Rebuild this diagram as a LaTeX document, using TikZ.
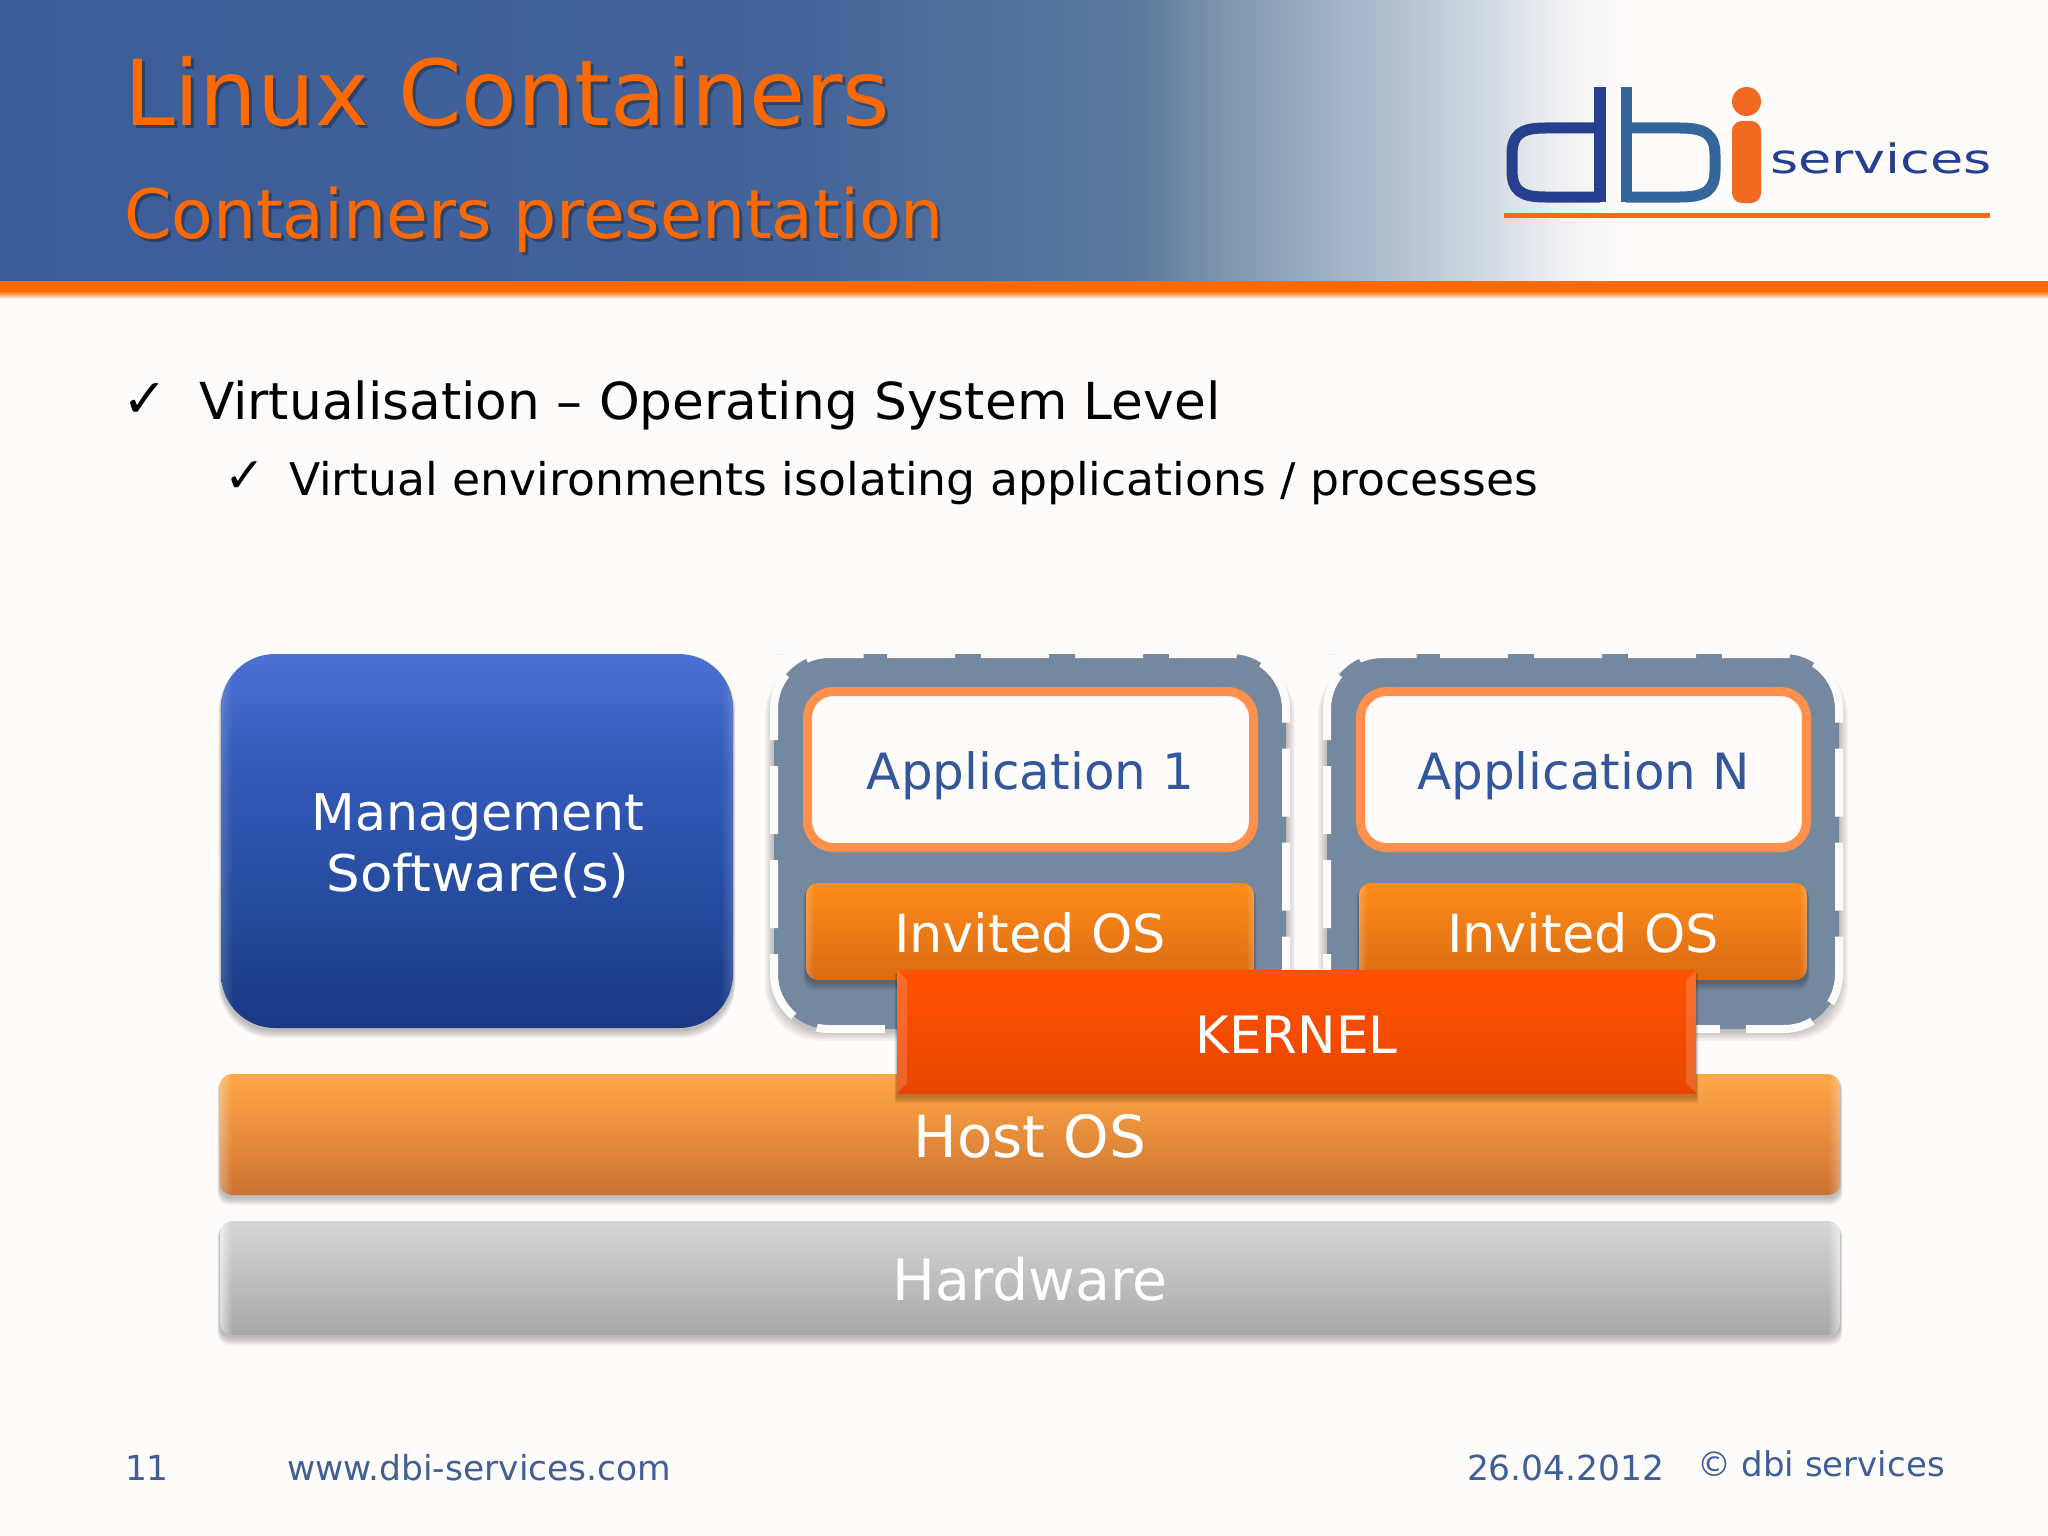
\documentclass[tikz,border=0pt]{standalone}
\usepackage{fontspec}
\usepackage{graphicx}
\setmainfont{DejaVu Sans}
\usetikzlibrary{calc,fadings}
\definecolor{pagebg}{HTML}{FEFCFB}
\definecolor{titleor}{HTML}{FF6A00}
\definecolor{bandor}{HTML}{FF6A00}
\definecolor{txtblue}{HTML}{34569A}
\definecolor{footblue}{HTML}{3F5F96}
\definecolor{vmgray}{HTML}{74889F}
\definecolor{apporange}{HTML}{FF914D}
\definecolor{logoblue}{HTML}{263F8E}
\definecolor{logoteal}{HTML}{33669A}
\definecolor{logoor}{HTML}{F26A22}
\definecolor{hA}{HTML}{3B5C98}\definecolor{hB}{HTML}{446399}\definecolor{hC}{HTML}{52729C}
\definecolor{hD}{HTML}{5A799B}\definecolor{hE}{HTML}{7D95AE}\definecolor{hF}{HTML}{9AAEC2}
\definecolor{hG}{HTML}{B5C3D1}\definecolor{hH}{HTML}{D3DBE3}\definecolor{hI}{HTML}{EFF0F2}
\definecolor{mA}{HTML}{1A3884}\definecolor{mB}{HTML}{2B53AA}\definecolor{mC}{HTML}{3358B8}\definecolor{mD}{HTML}{4C70D4}
\definecolor{hostT}{HTML}{FFA845}\definecolor{hostM}{HTML}{FBA048}\definecolor{hostB}{HTML}{CC7232}
\definecolor{hwT}{HTML}{D6D6D6}\definecolor{hwM}{HTML}{C6C6C6}\definecolor{hwB}{HTML}{A8A8A8}
\definecolor{guestT}{HTML}{FF8C1A}\definecolor{guestM}{HTML}{FC8818}\definecolor{guestB}{HTML}{D96B12}
\definecolor{kernT}{HTML}{FF5200}\definecolor{kernB}{HTML}{E84600}
\pgfdeclarehorizontalshading{hdrshade}{100bp}{
 color(0bp)=(hA); color(25bp)=(hA); color(44.53bp)=(hB); color(49.41bp)=(hC);
 color(52.69bp)=(hD); color(54.86bp)=(hE); color(57.03bp)=(hF); color(59.23bp)=(hG);
 color(61.4bp)=(hH); color(63.04bp)=(hI); color(64.67bp)=(pagebg); color(100bp)=(pagebg)}
\pgfdeclareverticalshading{mgmtshade}{100bp}{
 color(0bp)=(mA); color(25bp)=(mA); color(50bp)=(mB); color(60bp)=(mC);
 color(75bp)=(mD); color(100bp)=(mD)}
\tikzset{
 every node/.style={inner sep=0pt,outer sep=0pt},
 layerbox/.style={rounded corners=#1,text=white,align=center},
 hostbox/.style={layerbox=12pt,top color=hostT,middle color=hostM,bottom color=hostB,minimum width=1620pt,minimum height=121pt,font=\fontsize{58}{60}\selectfont},
 hwbox/.style={layerbox=12pt,top color=hwT,middle color=hwM,bottom color=hwB,minimum width=1620pt,minimum height=114pt,font=\fontsize{57}{60}\selectfont},
 guestbox/.style={layerbox=12pt,top color=guestT,middle color=guestM,bottom color=guestB,minimum width=448pt,minimum height=97pt,font=\fontsize{52.5}{55}\selectfont},
 kernelbox/.style={text=white,top color=kernT,bottom color=kernB,minimum width=799pt,minimum height=123pt,font=\fontsize{51.5}{55}\selectfont},
 mgmtbox/.style={layerbox=54pt,shading=mgmtshade,minimum width=512pt,minimum height=374pt},
 mgmtlabel/.style={text=white,align=center,font=\fontsize{50.6}{61}\selectfont},
 appbox/.style={rounded corners=26pt,draw=apporange,line width=9pt,fill=pagebg,text=txtblue,minimum width=446pt,minimum height=156pt,font=\fontsize{50}{55}\selectfont},
 vmfill/.style={rounded corners=55pt,fill=vmgray},
 vmdash/.style={rounded corners=55pt,draw=pagebg,line width=8pt,dash pattern=on 68pt off 26pt},
 foot/.style={text=footblue,anchor=base west,font=\fontsize{34.5}{40}\selectfont},
 titlefont/.style={anchor=base west,font=\fontsize{91}{100}\selectfont},
 subfont/.style={anchor=base west,font=\fontsize{68}{80}\selectfont}
}
\newcommand{\lowered}[2]{\raisebox{-#1pt}[0pt][0pt]{#2}}
\newcommand{\softshade}[5]{%
 \foreach \k in {1,...,7}{%
  \fill[black,opacity=0.04,rounded corners=#5pt]
   ({#1-(8-\k)*0.35},{#2+3}) rectangle ({#3+(8-\k)*0.35},{#4+(8-\k)*1.2+2});}}
\newcommand{\wideshade}[5]{%
 \foreach \k in {1,...,7}{%
  \fill[black,opacity=0.035,rounded corners=#5pt]
   ({#1-(8-\k)*1.3},{#2+6}) rectangle ({#3+(8-\k)*1.3},{#4+(8-\k)*1.4+2});}}
\newcommand{\softbevel}[7]{%
 \begin{scope}
 \clip[rounded corners=#7pt] (#1,#2) rectangle (#3,#4);
 \fill[white,opacity=#6,path fading=east] (#1,#2) rectangle ({#1+#5},#4);
 \fill[white,opacity=#6,path fading=west] ({#3-#5},#2) rectangle (#3,#4);
 \end{scope}}
\newcommand{\sidebevel}[5]{%
 \fill[white,opacity=.16] (#1,#2) -- ({#1+#5},{#2+#5}) -- ({#1+#5},{#4-#5}) -- (#1,#4) -- cycle;
 \fill[white,opacity=.16] (#3,#2) -- ({#3-#5},{#2+#5}) -- ({#3-#5},{#4-#5}) -- (#3,#4) -- cycle;}
\begin{document}
\begin{tikzpicture}[x=1pt,y=-1pt]
\useasboundingbox (0,0) rectangle (2048,1536);
\fill[pagebg] (0,0) rectangle (2048,1536);
% header
\fill[shading=hdrshade] (0,0) rectangle (2048,283);
\fill[bandor] (0,281) rectangle (2048,291);
\shade[top color=bandor,bottom color=pagebg] (0,291) rectangle (2048,299);
\node[titlefont,text=black,opacity=.3] (titleshade) at (127,129) {Linux Containers};
\node[titlefont,text=titleor] (title) at (124,126) {Linux Containers};
\node[subfont,text=black,opacity=.3] (subshade) at (127,241) {Containers presentation};
\node[subfont,text=titleor] (subtitle) at (124,238) {Containers presentation};
% logo
\draw[logoblue,line width=11pt] (1600,128) -- (1545,128) .. controls (1520,128) and (1512,135) .. (1512,155) -- (1512,170) .. controls (1512,190) and (1520,197) .. (1545,197) -- (1600,197);
\fill[logoblue] (1594,87) rectangle (1606,202);
\fill[logoteal] (1620.5,87) rectangle (1632,202);
\draw[logoteal,line width=11pt] (1626,128) -- (1680,128) .. controls (1706,128) and (1715,135) .. (1715,155) -- (1715,170) .. controls (1715,190) and (1706,197) .. (1680,197) -- (1626,197);
\fill[logoor] (1746.5,101.5) ellipse (14.5pt and 14.5pt);
\fill[logoor,rounded corners=10pt] (1732,121) rectangle (1761,203);
\node[anchor=base west,text=logoblue,font=\fontsize{44}{48}\selectfont] (logotext) at (1770,174) {\scalebox{1.23}[0.92]{services}};
\fill[logoor] (1504,213) rectangle (1990,218);
% bullets
\node[anchor=base west,font=\fontsize{54}{58}\selectfont,text=black] (chk1) at (122,417) {✓};
\node[anchor=base west,font=\fontsize{51}{55}\selectfont,text=black] (l1) at (199,419) {\scalebox{1.015}[1]{Virtualisation – Operating System Level}};
\node[anchor=base west,font=\fontsize{49}{52}\selectfont,text=black] (chk2) at (224,492) {✓};
\node[anchor=base west,font=\fontsize{45}{50}\selectfont,text=black] (l2) at (289,495) {\scalebox{1.015}[1]{Virtual environments isolating applications / processes}};
% management
\softshade{221}{654}{733}{1028}{54}
\node[mgmtbox] (mgmt) at (477,841) {};
\softbevel{221}{654}{733}{1028}{12}{.16}{54}
\node[mgmtlabel] (mgmtlbl) at (478,846) {Management\\\scalebox{1.05}[1]{Software(s)}};
% VMs
\foreach \dx/\nm/\lbl in {0/a/Application 1,553/b/Application N}{
 \begin{scope}[shift={(\dx,0)}]
  \wideshade{774}{654}{1286}{1029}{55}
  \path[vmfill] (832,654) -- (1286,654) -- (1286,1029) -- (774,1029) -- (774,654) -- cycle;
  \path[vmdash] (832,654) -- (1286,654) -- (1286,1029) -- (774,1029) -- (774,654) -- cycle;
  \node[appbox] (app\nm) at (1030.5,769.5) {\lowered{19.5}{\lbl}};
  \softshade{806}{883}{1254}{980}{12}
  \node[guestbox] (guest\nm) at (1030,931.5) {\lowered{20.5}{Invited OS}};
  \softbevel{806}{883}{1254}{980}{8}{.22}{12}
 \end{scope}
}
% host and hardware
\softshade{220}{1074}{1840}{1195}{12}
\node[hostbox] (host) at (1030,1134.5) {\lowered{23}{Host OS}};
\softbevel{220}{1074}{1840}{1195}{12}{.3}{12}
\softshade{220}{1221}{1840}{1335}{12}
\node[hwbox] (hw) at (1030,1278) {\lowered{22}{Hardware}};
\softbevel{220}{1221}{1840}{1335}{12}{.6}{12}
% kernel
\softshade{897}{970}{1696}{1093}{1}
\node[kernelbox] (kernel) at (1296.5,1031.5) {\lowered{21.5}{KERNEL}};
\sidebevel{897}{970}{1696}{1093}{10}
% footer
\node[foot] (num) at (125,1480) {11};
\node[foot] (web) at (287,1480) {www.dbi-services.com};
\node[foot] (date) at (1467,1480) {26.04.2012};
\node[foot,font=\fontsize{34}{40}\selectfont] (copy) at (1697,1476) {© dbi services};
\end{tikzpicture}
\end{document}
